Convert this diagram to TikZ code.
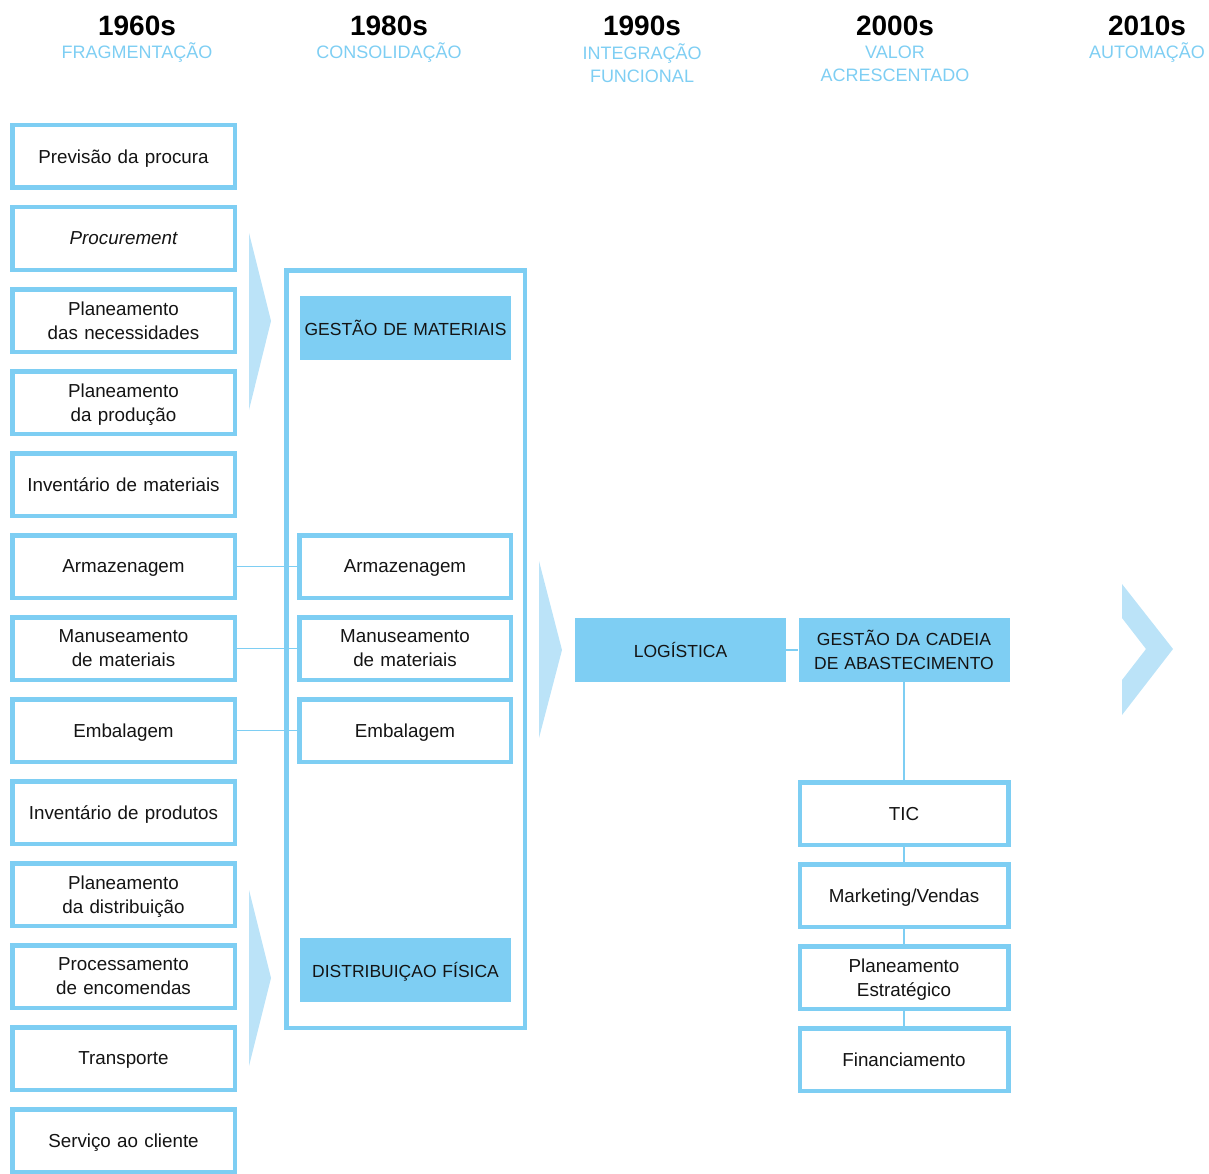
\documentclass[tikz,border=0pt]{standalone}
\usepackage{fontspec}
\setmainfont{Liberation Sans}
\usepackage{tikz}

\definecolor{azul}{RGB}{126,206,243}
\definecolor{azulclaro}{RGB}{187,227,248}
\definecolor{texto}{RGB}{20,20,20}

\begin{document}
\begin{tikzpicture}[x=1pt, y=-1pt, node distance = 82pt,
  fase/.style={rectangle, draw=azul, line width=4.5pt, fill=white, text=texto, text width=214pt, align=center, minimum width=222.5pt, minimum height=62.5pt, inner sep=0pt, text depth=0pt, font=\fontsize{18.8}{24}\selectfont},
  fase2/.style={fase, text width=204pt, minimum width=211.5pt},
  fase3/.style={fase, text width=200pt, minimum width=208.5pt},
  duas/.style={text depth=24pt},
  grupo/.style={rectangle, fill=azul, text=texto, text width=205pt, align=center, minimum width=211pt, minimum height=64pt, inner sep=0pt, text depth=0pt, font=\fontsize{17.5}{24}\selectfont},
  ligacao/.style={draw=azul, line width=1.2pt},
  seta/.style={fill=azulclaro},
  decada/.style={text=black, font=\bfseries\fontsize{28}{30}\selectfont},
  tema/.style={text=azul, align=center, font=\fontsize{18}{23}\selectfont}]
\useasboundingbox (0,0) rectangle (1209,1174);

% cabecalho
\node [decada] (d60) at (137,26) {1960s};
\node [decada] (d80) at (389,26) {1980s};
\node [decada] (d90) at (642,26) {1990s};
\node [decada] (d00) at (895,26) {2000s};
\node [decada] (d10) at (1147,26) {2010s};
\node [tema] (t60) at (137,53) {FRAGMENTAÇÃO};
\node [tema] (t80) at (389,53) {CONSOLIDAÇÃO};
\node [tema] (t90) at (642,63.5) {INTEGRAÇÃO\\FUNCIONAL};
\node [tema] (t00) at (895,63.5) {VALOR\\ACRESCENTADO};
\node [tema] (t10) at (1147,53) {AUTOMAÇÃO};

% 1960s
\node [fase] (procura) at (123.5,156.5) {Previsão da procura};
\node [fase, below of=procura] (procurement) {\itshape Procurement};
\node [fase, duas, below of=procurement] (necessidades) {Planeamento\\das necessidades};
\node [fase, duas, below of=necessidades] (producao) {Planeamento\\da produção};
\node [fase, below of=producao] (invmateriais) {Inventário de materiais};
\node [fase, below of=invmateriais] (armazenagem) {Armazenagem};
\node [fase, duas, below of=armazenagem] (manuseamento) {Manuseamento\\de materiais};
\node [fase, below of=manuseamento] (embalagem) {Embalagem};
\node [fase, below of=embalagem] (invprodutos) {Inventário de produtos};
\node [fase, duas, below of=invprodutos] (distribuicao) {Planeamento\\da distribuição};
\node [fase, duas, below of=distribuicao] (encomendas) {Processamento\\de encomendas};
\node [fase, below of=encomendas] (transporte) {Transporte};
\node [fase, below of=transporte] (cliente) {Serviço ao cliente};

% setas
\fill [seta] (249,233) -- (271,321) -- (249,410) -- cycle;
\fill [seta] (249,890) -- (271,978) -- (249,1066) -- cycle;
\fill [seta] (539,561) -- (562,650) -- (539,738) -- cycle;
\fill [seta] (1122,584) -- (1173,649) -- (1122,715) -- (1122,680) -- (1146,649) -- (1122,618) -- cycle;

% 1980s
\node [rectangle, draw=azul, line width=4.5pt, minimum width=238.5pt, minimum height=757.5pt, inner sep=0pt] (quadro) at (405.5,649) {};
\node [grupo] (materiais) at (405.5,328) {GESTÃO DE MATERIAIS};
\node [fase2, right of=armazenagem, node distance=281.5pt] (armazenagem2) {Armazenagem};
\node [fase2, duas, right of=manuseamento, node distance=281.5pt] (manuseamento2) {Manuseamento\\de materiais};
\node [fase2, right of=embalagem, node distance=281.5pt] (embalagem2) {Embalagem};
\node [grupo] (fisica) at (405.5,970) {DISTRIBUIÇAO FÍSICA};

\draw [ligacao] (armazenagem) -- (armazenagem2);
\draw [ligacao] (manuseamento) -- (manuseamento2);
\draw [ligacao] (embalagem) -- (embalagem2);

% 1990s e 2000s
\node [grupo] (logistica) at (680.5,650) {LOGÍSTICA};
\node [grupo, duas] (cadeia) at (904,650) {GESTÃO DA CADEIA\\DE ABASTECIMENTO};
\node [fase3] (tic) at (904,813.5) {TIC};
\node [fase3, below of=tic] (marketing) {Marketing/Vendas};
\node [fase3, duas, below of=marketing] (estrategico) {Planeamento\\Estratégico};
\node [fase3, below of=estrategico] (financiamento) {Financiamento};

\draw [ligacao] (logistica) -- (cadeia);
\draw [ligacao] (cadeia) -- (tic);
\draw [ligacao] (tic) -- (marketing);
\draw [ligacao] (marketing) -- (estrategico);
\draw [ligacao] (estrategico) -- (financiamento);
\end{tikzpicture}
\end{document}
